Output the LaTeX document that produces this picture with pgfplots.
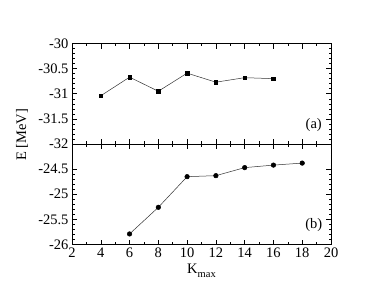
\documentclass[border=0pt]{standalone}
\usepackage{fontspec}
\setmainfont{Liberation Serif}
\usepackage{pgfplots}
\pgfplotsset{compat=1.18}

\pgfplotsset{
  panel/.style={
    scale only axis,
    width=259pt, height=100.5pt,
    xmin=2, xmax=20,
    xtick={2,4,...,20},
    minor x tick num=1,
    minor y tick num=4,
    tick align=inside,
    major tick length=5pt,
    minor tick length=2.5pt,
    every tick/.style={black, line width=0.5pt},
    axis line style={line width=0.6pt},
    tick label style={font=\fontsize{14.5}{16}\selectfont},
    /pgf/number format/assume math mode=true,
    /pgf/number format/fixed,
    xtick pos=both, ytick pos=both,
  },
}

\begin{document}
\begin{tikzpicture}[x=1pt,y=1pt]
\useasboundingbox (0,0) rectangle (374,289);

% (b) lower panel
\begin{axis}[panel, name=low, at={(72pt,44.5pt)}, anchor=south west,
  ymin=-26, ymax=-24,
  ytick={-26,-25.5,-25,-24.5},
  yticklabels={-26,-25.5,-25,-24.5},
  xlabel={K\raisebox{-0.7ex}{\fontsize{10.5}{12}\selectfont max}},
  xlabel style={font=\fontsize{14.5}{16}\selectfont, yshift=1pt},
]
\addplot[black!80, line width=0.5pt, mark=*, mark size=2.3pt,
  mark options={fill=black, draw=black}] coordinates {
  (6,-25.79) (8,-25.26) (10,-24.65) (12,-24.63) (14,-24.47) (16,-24.42) (18,-24.38)
};
\node[font=\fontsize{14.5}{16}\selectfont] at (axis cs:18.8,-25.62) {(b)};
\end{axis}

% (a) upper panel
\begin{axis}[panel, at={(72pt,145pt)}, anchor=south west,
  ymin=-32, ymax=-30,
  ytick={-32,-31.5,-31,-30.5,-30},
  yticklabels={-32,-31.5,-31,-30.5,-30},
  xticklabels={},
]
\addplot[black!80, line width=0.5pt, mark=square*, mark size=1.8pt,
  mark options={fill=black, draw=black}] coordinates {
  (4,-31.04) (6,-30.67) (8,-30.95) (10,-30.59) (12,-30.77) (14,-30.68) (16,-30.70)
};
\node[font=\fontsize{14.5}{16}\selectfont] at (axis cs:18.8,-31.63) {(a)};
\end{axis}

\node[rotate=90, font=\fontsize{14.5}{16}\selectfont] at (22,154) {E [MeV]};
\end{tikzpicture}
\end{document}
